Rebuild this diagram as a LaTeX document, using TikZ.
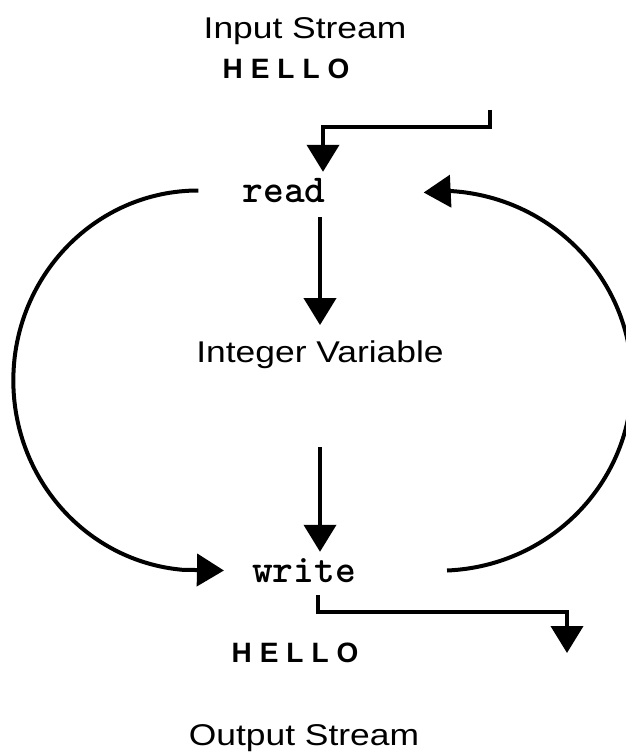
\documentclass[tikz,border=0pt]{standalone}
\usepackage{fontspec}
\usetikzlibrary{arrows.meta}
\newfontfamily\labelfont{Liberation Sans}[FakeStretch=1.18]
\newfontfamily\wordfont{Liberation Sans}
\newcommand\spacedhello{H\kern8pt E\kern8pt L\kern8pt L\kern8pt O}
\begin{document}
\begin{tikzpicture}[x=1pt,y=-1pt,
  arr/.style={line width=4pt,-{Triangle[length=27pt,width=32pt]}},
  streamlabel/.style={font=\labelfont\fontsize{30}{36}\selectfont,inner sep=0pt,anchor=base},
  codeword/.style={font=\ttfamily\bfseries\fontsize{39.5}{44}\selectfont,inner xsep=0pt,inner ysep=7pt,
                   text height=23pt,text depth=0pt,anchor=base},
  hello/.style={font=\wordfont\bfseries\fontsize{28}{32}\selectfont,inner sep=0pt,anchor=base}]
\useasboundingbox (0,0) rectangle (626,752);

% text
\node[streamlabel] (instream)  at (305,39)  {Input Stream};
\node[hello]       (inhello)   at (286,78)  {\spacedhello};
\node[codeword]    (readn)     at (284,202) {read};
\node[streamlabel] (intv)      at (320,362) {Integer Variable};
\node[codeword]    (writen)    at (304,582) {write};
\node[hello]       (outhello)  at (295,662) {\spacedhello};
\node[streamlabel] (outstream) at (304,745) {Output Stream};

% stream in and out
\coordinate (inStart) at (490,110);
\coordinate (outEnd)  at (567,653);
\draw[arr] (inStart) -- ++(0,17) -| ([xshift=39pt]readn.north);
\draw[arr] ([xshift=14pt,yshift=-6pt]writen.south) -- ++(0,17) -| (outEnd);

% read -> variable -> write
\draw[arr,shorten <=8pt,shorten >=15pt] (readn.south -| intv.north) -- (intv.north);
\draw[arr,shorten <=79pt] (intv.south) -- (intv.south |- writen.north);

% loops
\draw[arr] ([xshift=-44pt]readn.west)
  arc[start angle=-90,end angle=-265,x radius=185,y radius=190]
  -- ([xshift=-28pt]writen.west);
\draw[arr] ([xshift=91pt]writen.east)
  arc[start angle=87.6,end angle=-86,x radius=193,y radius=190]
  -- ([xshift=98pt,yshift=-2pt]readn.east);
\end{tikzpicture}
\end{document}
